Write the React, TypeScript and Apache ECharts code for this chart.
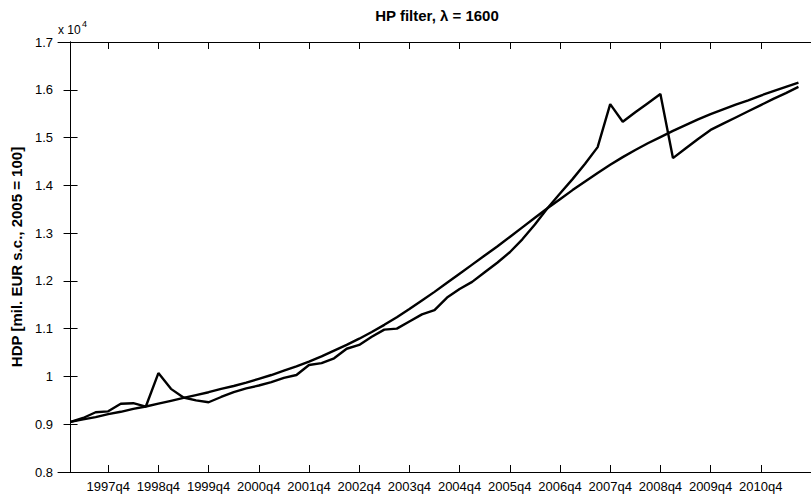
import React, { useEffect, useRef } from "react";
import * as echarts from "echarts";

const quarters = [
  "1997q1", "1997q2", "1997q3", "1997q4",
  "1998q1", "1998q2", "1998q3", "1998q4",
  "1999q1", "1999q2", "1999q3", "1999q4",
  "2000q1", "2000q2", "2000q3", "2000q4",
  "2001q1", "2001q2", "2001q3", "2001q4",
  "2002q1", "2002q2", "2002q3", "2002q4",
  "2003q1", "2003q2", "2003q3", "2003q4",
  "2004q1", "2004q2", "2004q3", "2004q4",
  "2005q1", "2005q2", "2005q3", "2005q4",
  "2006q1", "2006q2", "2006q3", "2006q4",
  "2007q1", "2007q2", "2007q3", "2007q4",
  "2008q1", "2008q2", "2008q3", "2008q4",
  "2009q1", "2009q2", "2009q3", "2009q4",
  "2010q1", "2010q2", "2010q3", "2010q4",
  "2011q1", "2011q2", "2011q3",
];

// HDP, mil. EUR s.c. (2005 = 100)
const actual = [
  9050, 9130, 9250, 9270,
  9430, 9440, 9370, 10070,
  9740, 9560, 9500, 9460,
  9570, 9670, 9750, 9810,
  9880, 9970, 10030, 10240,
  10280, 10380, 10580, 10660,
  10830, 10980, 11000, 11150,
  11300, 11390, 11650, 11830,
  11980, 12180, 12380, 12600,
  12870, 13180, 13520, 13830,
  14130, 14450, 14800, 15700,
  15330, 15530, 15720, 15910,
  14570, 14770, 14970, 15160,
  15290, 15420, 15550, 15680,
  15810, 15930, 16060,
];

// HP trend, lambda = 1600
const trend = [
  9050, 9100, 9150, 9210,
  9260, 9320, 9370, 9430,
  9490, 9550, 9610, 9670,
  9740, 9800, 9870, 9950,
  10030, 10120, 10210, 10310,
  10420, 10540, 10660, 10790,
  10930, 11080, 11240, 11410,
  11590, 11770, 11960, 12150,
  12340, 12530, 12720, 12920,
  13120, 13320, 13520, 13710,
  13900, 14080, 14260, 14430,
  14590, 14740, 14880, 15010,
  15140, 15260, 15380, 15490,
  15590, 15690, 15780, 15880,
  15970, 16060, 16150,
];

const tickLabels = [
  "1997q4", "1998q4", "1999q4", "2000q4", "2001q4", "2002q4", "2003q4",
  "2004q4", "2005q4", "2006q4", "2007q4", "2008q4", "2009q4", "2010q4",
];

const FONT = "'Liberation Sans', Arial, Helvetica, sans-serif";

export default function App() {
  const ref = useRef<HTMLDivElement>(null);

  useEffect(() => {
    if (!ref.current) return;
    const chart = echarts.init(ref.current, null, { renderer: "svg" });
    const tickIdx = tickLabels.map((l) => quarters.indexOf(l));
    const axisLine = { show: true, lineStyle: { color: "#000", width: 1 } };
    const tickStyle = { color: "#000", width: 1 };

    chart.setOption({
      animation: false,
      backgroundColor: "#fff",
      textStyle: { fontFamily: FONT },
      title: {
        text: "HP filter, λ = 1600",
        left: 437,
        textAlign: "center",
        top: 8,
        padding: 0,
        textStyle: { fontFamily: FONT, fontSize: 15, fontWeight: "bold", color: "#000" },
      },
      grid: { left: 58, right: -10, top: 42, bottom: 24, containLabel: false },
      xAxis: [
        {
          type: "value",
          position: "bottom",
          min: -1,
          max: 59,
          splitLine: { show: false },
          axisLine,
          axisTick: { show: true, inside: true, length: 7, lineStyle: tickStyle, customValues: tickIdx },
          axisLabel: {
            show: true,
            customValues: tickIdx,
            formatter: (v: number) => quarters[Math.round(v)] ?? "",
            color: "#000",
            fontSize: 13,
            fontFamily: FONT,
            margin: 8,
          },
        },
        {
          type: "value",
          position: "top",
          min: -1,
          max: 59,
          splitLine: { show: false },
          axisLine,
          axisTick: { show: true, inside: true, length: 7, lineStyle: tickStyle, customValues: tickIdx },
          axisLabel: { show: false },
        },
      ],
      yAxis: [
        {
          type: "value",
          position: "left",
          min: 8000,
          max: 17000,
          interval: 1000,
          splitLine: { show: false },
          axisLine,
          axisTick: { show: true, inside: true, length: 7, lineStyle: tickStyle },
          axisLabel: {
            color: "#000",
            fontSize: 13,
            fontFamily: FONT,
            margin: 5,
            formatter: (v: number) => String(parseFloat((v / 10000).toFixed(2))),
          },
          name: "HDP [mil. EUR s.c., 2005 = 100]",
          nameLocation: "middle",
          nameGap: 31,
          nameTextStyle: { fontFamily: FONT, fontSize: 15, fontWeight: "bold", color: "#000" },
        },
        {
          type: "value",
          position: "right",
          min: 8000,
          max: 17000,
          interval: 1000,
          splitLine: { show: false },
          axisLine,
          axisTick: { show: true, inside: true, length: 7, lineStyle: tickStyle },
          axisLabel: { show: false },
        },
      ],
      graphic: [
        {
          type: "text",
          left: 58,
          top: 24,
          style: { text: "x 10", fontFamily: FONT, fontSize: 12, fill: "#000" },
        },
        {
          type: "text",
          left: 82,
          top: 19,
          style: { text: "4", fontFamily: FONT, fontSize: 9, fill: "#000" },
        },
      ],
      series: [
        {
          name: "actual",
          type: "line",
          xAxisIndex: 0,
          yAxisIndex: 0,
          showSymbol: false,
          data: actual.map((v, i) => [i, v]),
          lineStyle: { color: "#000", width: 2.4 },
          itemStyle: { color: "#000" },
        },
        {
          name: "trend",
          type: "line",
          xAxisIndex: 0,
          yAxisIndex: 0,
          showSymbol: false,
          data: trend.map((v, i) => [i, v]),
          lineStyle: { color: "#000", width: 2.4 },
          itemStyle: { color: "#000" },
        },
      ],
    });
    return () => chart.dispose();
  }, []);

  return (
    <div
      ref={ref}
      style={{ position: "absolute", left: 0, top: 0, width: 811, height: 496, background: "#fff" }}
    />
  );
}
